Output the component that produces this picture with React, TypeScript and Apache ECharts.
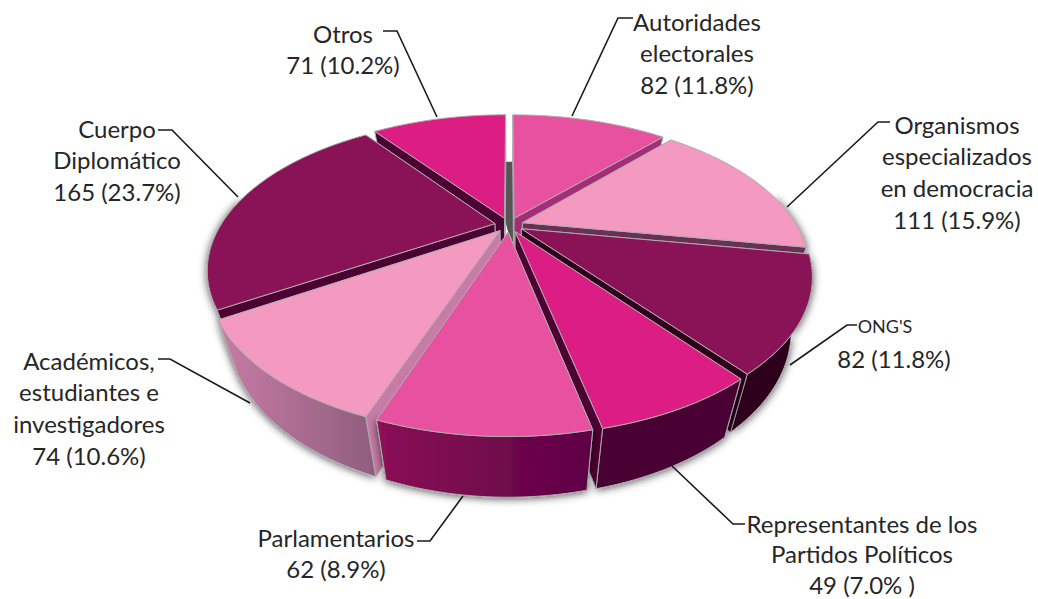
import React, { useEffect, useRef } from "react";
import * as echarts from "echarts";

const categories = ["Autoridades electorales", "Organismos especializados en democracia", "ONG's", "Representantes de los Partidos Políticos", "Parlamentarios", "Académicos, estudiantes e investigadores", "Cuerpo Diplomático", "Otros"];
const values = [82, 111, 82, 49, 62, 74, 165, 71];
const topColors = ["#E8519F", "#F49AC1", "#8A1256", "#DB1D84", "#E8519F", "#F49AC1", "#8A1256", "#DB1D84"];
const sideColors = ["#A62B78", "#6B2E55", "#2E001C", "#4D0033", "#6A0A4C", "#C77BA6", "#4D0033", "#4D0033"];
const wallFrom = ["#A62B78", "#B86A98", "#2E001C", "#4A0030", "#8A1256", "#C77BA6", "#5E0D3F", "#4D0033"];
const wallTo = ["#A62B78", "#B86A98", "#2E001C", "#4A0030", "#5E0045", "#8F5E7E", "#5E0D3F", "#4D0033"];
const paintOrder = [7, 0, 6, 1, 5, 2, 3, 4];

const labelLines: string[][] = [
  ["Otros", "71 (10.2%)"],
  ["Autoridades", "electorales", "82 (11.8%)"],
  ["Organismos", "especializados", "en democracia", "111 (15.9%)"],
  ["82 (11.8%)"],
  ["Representantes de los", "Partidos Políticos", "49 (7.0% )"],
  ["Parlamentarios", "62 (8.9%)"],
  ["Académicos,", "estudiantes e", "investigadores", "74 (10.6%)"],
  ["Cuerpo", "Diplomático", "165 (23.7%)"],
];
const labelX = [343, 697, 957, 894, 862, 336, 89, 117];
const labelY = [33, 21, 124, 358, 523, 537, 360, 128];
const labelGap = [31.8, 31.8, 31.8, 31.8, 30.8, 31.8, 31.8, 31.8];
const leaders: number[][][] = [
  [[383, 31], [397, 31], [437, 117]],
  [[572, 116], [618, 18], [633, 18]],
  [[787, 207], [878, 122], [890, 122]],
  [[790, 365], [847, 325], [857, 325]],
  [[672, 466], [733, 524], [745, 524]],
  [[463, 496], [430, 541], [417, 541]],
  [[250, 403], [170, 359], [158, 359]],
  [[238, 197], [172, 130], [158, 130]],
];

const total = values.reduce((a, b) => a + b, 0);
const CX = 509, CY = 225, RX = 287, RY = 144.4, PERSP = 0.3125, R0 = 0.955, EXPLODE = 0.05;
const FONT = "Lato, Carlito, Calibri, sans-serif";
const EDGE = "#ADADAD";

const starts: number[] = [];
values.reduce((acc, v, i) => { starts[i] = acc; return acc + (v / total) * Math.PI * 2; }, 0);
const endOf = (i: number) => starts[i] + (values[i] / total) * Math.PI * 2;

function top(i: number, r: number, t: number): number[] {
  const mid = (starts[i] + endOf(i)) / 2;
  const u = r * Math.sin(t) + EXPLODE * Math.sin(mid);
  const v = r * Math.cos(t) + EXPLODE * Math.cos(mid);
  const w = 1 + PERSP * v;
  return [CX + (RX * u) / w, CY - (RY * v) / w];
}
const down = (p: number[]) => [CX + (p[0] - CX) * 0.93, p[1] + 47 + (p[1] - 115) * 0.0426];

function angles(i: number): number[] {
  const out: number[] = [];
  const n = Math.ceil(((endOf(i) - starts[i]) * 180) / Math.PI);
  for (let k = 0; k <= n; k++) out.push(starts[i] + ((endOf(i) - starts[i]) * k) / n);
  return out;
}

// A cut face shows when "straight down" from its edge leaves the slice's top face.
function faceShows(tip: number[], rimPoint: number[], inner: number[]): boolean {
  const ex = rimPoint[0] - tip[0], ey = rimPoint[1] - tip[1];
  const toInner = ex * (inner[1] - tip[1]) - ey * (inner[0] - tip[0]);
  const toDown = ex;
  return toInner * toDown < 0;
}

function renderSlice(params: any) {
  const i = paintOrder[params.dataIndex];
  const children: any[] = [];
  const ts = angles(i);
  const arc = ts.map((t) => top(i, R0, t));
  const frontArc = ts.filter((t) => Math.cos(t) < 0.2).map((t) => top(i, R0, t));
  const tip = top(i, 0, 0);
  const tipB = down(tip);
  const inner = top(i, R0 / 2, (starts[i] + endOf(i)) / 2);
  const edgeStyle = { stroke: EDGE, lineWidth: 1, lineJoin: "round" };
  if (params.dataIndex === 0) {
    const a = top(7, R0, Math.PI * 2);
    const b = top(0, R0, 0);
    children.push({
      type: "polygon",
      shape: { points: [down(a), down(b), top(0, 0, 0), down(top(2, 0, 0)), top(7, 0, 0)] },
      style: { fill: "#555555" },
    });
  }
  const first = arc[0], last = arc[arc.length - 1];
  const faces = [first, last].map((p) => ({
    shows: faceShows(tip, p, inner),
    el: { type: "polygon", shape: { points: [tip, p, down(p), tipB] }, style: { fill: sideColors[i], ...edgeStyle } },
  }));
  faces.filter((f) => !f.shows).forEach((f) => children.push(f.el));
  if (frontArc.length > 1) {
    const wall = [...frontArc, ...frontArc.map(down).reverse()];
    children.push({
      type: "polygon",
      shape: { points: wall },
      style: {
        fill: { type: "linear", x: 0, y: 0, x2: 1, y2: 0, colorStops: [{ offset: 0, color: wallFrom[i] }, { offset: 1, color: wallTo[i] }] },
        shadowBlur: 8, shadowColor: "rgba(0,0,0,0.7)", shadowOffsetY: 1,
        ...edgeStyle,
      },
    });
  }
  faces.filter((f) => f.shows).forEach((f) => children.push(f.el));
  children.push({ type: "polygon", shape: { points: [tip, ...arc] }, style: { fill: topColors[i], ...edgeStyle } });
  return { type: "group", children };
}

export default function App() {
  const ref = useRef<HTMLDivElement>(null);
  useEffect(() => {
    document.body.style.margin = "0";
    const chart = echarts.init(ref.current!, undefined, { renderer: "svg" });
    const graphics: any[] = [];
    leaders.forEach((pts) => {
      graphics.push({ type: "polyline", z: 10, shape: { points: pts }, style: { stroke: "#1a1a1a", lineWidth: 1.6, fill: "none" } });
    });
    labelLines.forEach((lines, k) => {
      lines.forEach((text, j) => {
        graphics.push({
          type: "text", z: 11, x: labelX[k], y: labelY[k] + j * labelGap[k],
          style: { text, fill: "#262626", font: `24px ${FONT}`, textAlign: "center", textVerticalAlign: "middle" },
        });
      });
    });
    graphics.push({
      type: "text", z: 11, x: 885, y: 326,
      style: { text: "ONG'S", fill: "#262626", font: `18px ${FONT}`, textAlign: "center", textVerticalAlign: "middle" },
    });
    chart.setOption({
      animation: false,
      backgroundColor: "#ffffff",
      series: [{
        type: "custom",
        coordinateSystem: "none",
        renderItem: renderSlice,
        data: paintOrder.map((i) => ({ name: categories[i], value: [values[i]] })),
        silent: true,
      }],
      graphic: graphics,
    });
    return () => chart.dispose();
  }, []);
  return <div ref={ref} style={{ width: 1038, height: 599, position: "absolute", left: 0, top: 0 }} />;
}
